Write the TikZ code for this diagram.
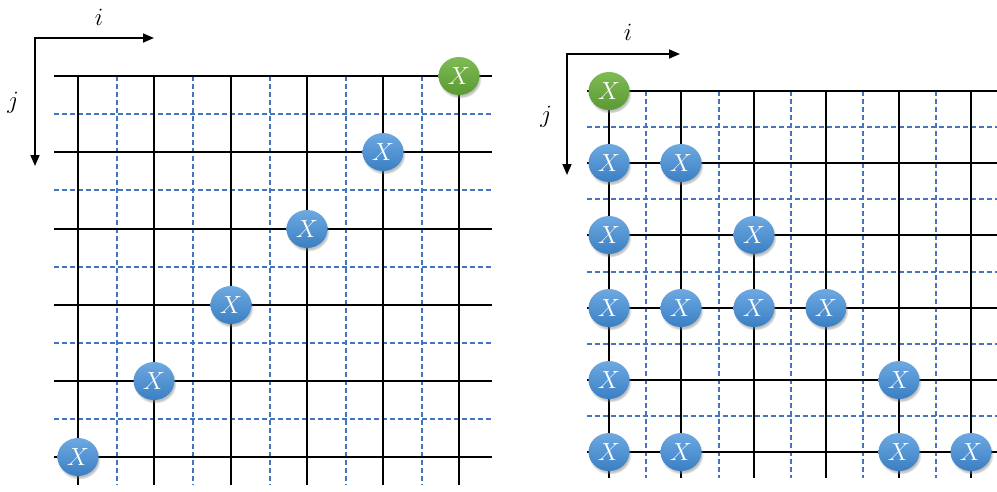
\documentclass[tikz,border=0pt]{standalone}
\usetikzlibrary{shapes.geometric,shadows,arrows.meta,fadings}
\definecolor{ballblueT}{HTML}{6EA9E1}
\definecolor{ballblueB}{HTML}{3A7FC3}
\definecolor{ballgreenT}{HTML}{7FBB54}
\definecolor{ballgreenB}{HTML}{5A9933}
\definecolor{gridblue}{HTML}{4472C4}
\begin{document}
\begin{tikzpicture}[x=1pt,y=-1pt,
  solidline/.style={line width=2pt,black},
  dashline/.style={line width=1.6pt,gridblue,dash pattern=on 5pt off 3pt},
  axisarrow/.style={line width=1.6pt,-{Triangle[length=11pt,width=9pt]}},
  ball/.style={ellipse,minimum width=41pt,minimum height=38pt,inner sep=0pt,text=white,
    font=\fontsize{30}{30}\selectfont,
    circular drop shadow={shadow xshift=1pt,shadow yshift=-2.5pt,opacity=0.5,shadow scale=1.05}},
  blueball/.style={ball,top color=ballblueT,bottom color=ballblueB},
  greenball/.style={ball,top color=ballgreenT,bottom color=ballgreenB},
  axlabel/.style={font=\fontsize{28}{28}\selectfont,inner sep=0pt}]

\useasboundingbox (0,0) rectangle (997,491);

% ---------- left grid ----------
\foreach \x in {117,193,270,346,422}
  \draw[dashline] (\x,76) -- (\x,485);
\foreach \y in {114,190,267,343,419}
  \draw[dashline] (54,\y) -- (492,\y);
\foreach \x in {78,154,231,307,383,459}
  \draw[solidline] (\x,76) -- (\x,485);
\foreach \y in {76,152,229,305,381,457}
  \draw[solidline] (54,\y) -- (492,\y);

% ---------- right grid ----------
\foreach \x in {646,719,791,863,936}
  \draw[dashline] (\x,91) -- (\x,478);
\foreach \y in {127,199,272,344,416}
  \draw[dashline] (587,\y) -- (997,\y);
\foreach \x in {609,681,754,826,899,971}
  \draw[solidline] (\x,91) -- (\x,478);
\foreach \y in {91,163,235,308,380,452}
  \draw[solidline] (587,\y) -- (997,\y);

% ---------- axes ----------
\coordinate (LO) at (35,38);
\coordinate (LI) at (154,38);
\coordinate (LJ) at (35,166);
\draw[axisarrow] ([xshift=-0.8pt]LO) -- (LI);
\draw[axisarrow] (LO) -- (LJ);
\node[axlabel] (Li) at (99,17) {$i$};
\node[axlabel] (Lj) at (13,103) {$j$};

\coordinate (RO) at (567,54);
\coordinate (RI) at (680,54);
\coordinate (RJ) at (567,175);
\draw[axisarrow] ([xshift=-0.8pt]RO) -- (RI);
\draw[axisarrow] (RO) -- (RJ);
\node[axlabel] (Ri) at (628,32) {$i$};
\node[axlabel] (Rj) at (546,117) {$j$};

% ---------- left balls ----------
\node[greenball] (L5) at (459,76) {$X$};
\node[blueball] (L4) at (383,152) {$X$};
\node[blueball] (L3) at (307,229) {$X$};
\node[blueball] (L2) at (231,305) {$X$};
\node[blueball] (L1) at (154,381) {$X$};
\node[blueball] (L0) at (78,457) {$X$};

% ---------- right balls ----------
\node[greenball] (R00) at (609,91) {$X$};
\node[blueball] (R10) at (609,163) {$X$};
\node[blueball] (R11) at (681,163) {$X$};
\node[blueball] (R20) at (609,235) {$X$};
\node[blueball] (R22) at (754,235) {$X$};
\node[blueball] (R30) at (609,308) {$X$};
\node[blueball] (R31) at (681,308) {$X$};
\node[blueball] (R32) at (754,308) {$X$};
\node[blueball] (R33) at (826,308) {$X$};
\node[blueball] (R40) at (609,380) {$X$};
\node[blueball] (R44) at (899,380) {$X$};
\node[blueball] (R50) at (609,452) {$X$};
\node[blueball] (R51) at (681,452) {$X$};
\node[blueball] (R54) at (899,452) {$X$};
\node[blueball] (R55) at (971,452) {$X$};
\end{tikzpicture}
\end{document}
